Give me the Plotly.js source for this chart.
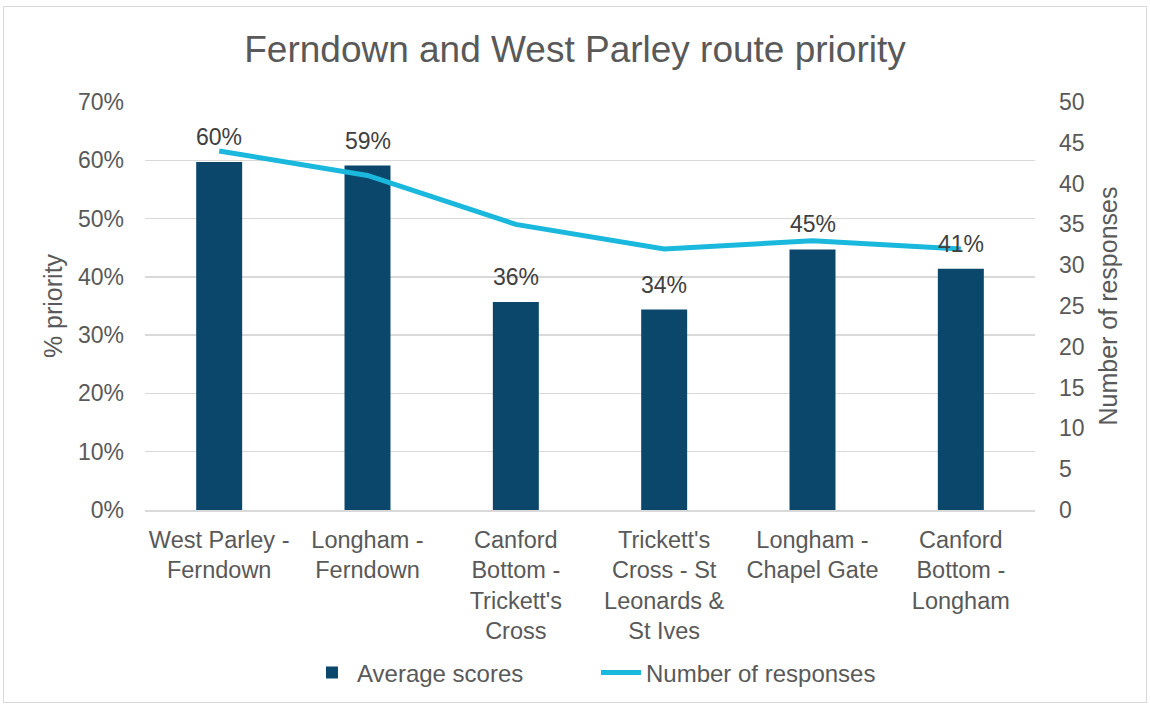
<!DOCTYPE html>
<html>
<head>
<meta charset="utf-8">
<script src="https://cdn.plot.ly/plotly-3.0.1.min.js"></script>
<style>
html,body{margin:0;padding:0;background:#fff;}
#wrap{position:relative;width:1150px;height:706px;}
#chart{width:1150px;height:706px;}
#frame{position:absolute;left:3px;top:6px;width:1144px;height:697px;border:1px solid #d9d9d9;pointer-events:none;box-sizing:border-box;}
</style>
</head>
<body>
<div id="wrap"><div id="chart"></div><div id="frame"></div></div>
<script>
const categories = [
  "West Parley -<br>Ferndown",
  "Longham -<br>Ferndown",
  "Canford<br>Bottom -<br>Trickett's<br>Cross",
  "Trickett's<br>Cross - St<br>Leonards &<br>St Ives",
  "Longham -<br>Chapel Gate",
  "Canford<br>Bottom -<br>Longham"
];
const averageScores = [0.597, 0.591, 0.357, 0.344, 0.447, 0.414];
const numberOfResponses = [44, 41, 35, 32, 33, 32];
const leftTicks = [0, 0.1, 0.2, 0.3, 0.4, 0.5, 0.6, 0.7];
const rightTicks = [0, 5, 10, 15, 20, 25, 30, 35, 40, 45, 50];

const font = "Liberation Sans, Arial, sans-serif";
const tickColor = "#595959";

const traces = [
  {
    type: "bar",
    name: "Average scores",
    x: categories,
    y: averageScores,
    marker: {color: "#0b476b"},
    hoverinfo: "x+y"
  },
  {
    type: "scatter",
    mode: "lines",
    name: "Number of responses",
    x: categories,
    y: numberOfResponses,
    yaxis: "y2",
    line: {color: "#1bb8de", width: 5}
  }
];

const labels = categories.map((c, i) => ({
  x: c,
  y: averageScores[i],
  xref: "x",
  yref: "y",
  text: Math.round(averageScores[i] * 100) + "%",
  showarrow: false,
  yanchor: "middle",
  yshift: 25,
  font: {family: font, size: 23, color: "#404040"}
}));

const layout = {
  width: 1150,
  height: 706,
  paper_bgcolor: "#ffffff",
  plot_bgcolor: "#ffffff",
  margin: {l: 145, r: 115, t: 102, b: 195},
  title: {
    text: "Ferndown and West Parley route priority",
    font: {family: font, size: 37, color: "#595959"},
    x: 0.5, xanchor: "center", y: 0.931, yanchor: "middle"
  },
  bargap: 0.69,
  showlegend: true,
  legend: {
    orientation: "h",
    x: 0.182, xanchor: "left",
    y: -0.396, yanchor: "middle",
    font: {family: font, size: 24, color: tickColor},
    itemwidth: 40,
    entrywidth: 234,
    entrywidthmode: "pixels"
  },
  annotations: labels,
  xaxis: {
    type: "category",
    tickfont: {family: font, size: 23.5, color: tickColor},
    showline: true,
    linecolor: "#d9d9d9",
    linewidth: 1.5,
    ticks: "",
    tickangle: 0,
    ticklabelstandoff: 8,
    automargin: false
  },
  yaxis: {
    range: [0, 0.7],
    tickvals: leftTicks,
    tickformat: ".0%",
    tickfont: {family: font, size: 23, color: tickColor},
    showgrid: true,
    gridcolor: "#d9d9d9",
    gridwidth: 1.5,
    zeroline: false,
    ticks: "",
    ticklabelstandoff: 20,
    title: {text: "% priority", font: {family: font, size: 25, color: tickColor}, standoff: 8},
    automargin: false
  },
  yaxis2: {
    range: [0, 50],
    tickvals: rightTicks,
    overlaying: "y",
    side: "right",
    showgrid: false,
    zeroline: false,
    ticks: "",
    ticklabelstandoff: 23,
    tickfont: {family: font, size: 23, color: tickColor},
    title: {text: "Number of responses", font: {family: font, size: 25, color: tickColor}, standoff: 15},
    automargin: false
  }
};

Plotly.newPlot("chart", traces, layout, {displayModeBar: false, staticPlot: true});
</script>
</body>
</html>
